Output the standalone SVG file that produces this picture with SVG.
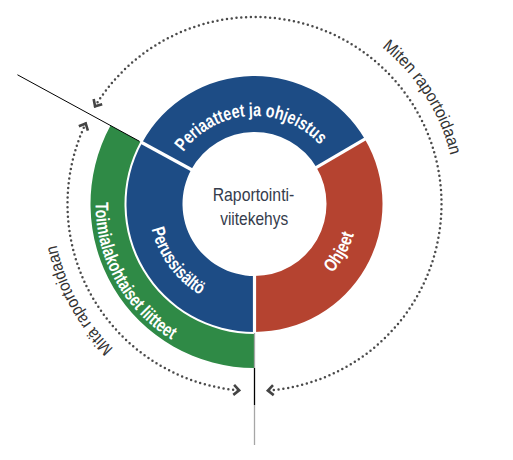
<svg xmlns="http://www.w3.org/2000/svg" width="513" height="460" viewBox="0 0 513 460">
  <style>
    .seg-blue { fill: #1d4c85; }
    .seg-red { fill: #b54330; }
    .seg-green { fill: #2f8a46; }
    .sep { stroke: #ffffff; stroke-width: 3.2; fill: none; }
    .lbl { font-family: "Liberation Sans Narrow", "Liberation Sans", Arial, sans-serif; font-weight: bold; fill: #ffffff; font-size: 18.5px; }
    .arcl { font-family: "Liberation Sans Narrow", "Liberation Sans", Arial, sans-serif; fill: #333333; font-size: 17px; }
    .ctr { font-family: "Liberation Sans Narrow", "Liberation Sans", Arial, sans-serif; fill: #353c4c; font-size: 18.5px; }
    .dot { fill: none; stroke: #4a4a4a; stroke-width: 2.5; stroke-linecap: round; stroke-dasharray: 0 4.8; marker-start: url(#chev); marker-end: url(#chev); }
  </style>
  <defs>
    <marker id="chev" markerUnits="userSpaceOnUse" markerWidth="14" markerHeight="14" refX="0" refY="0" orient="auto-start-reverse" overflow="visible">
      <path d="M-5.5,-5 L0,0 L-5.5,5" fill="none" stroke="#444444" stroke-width="2.6" stroke-linecap="butt"/>
    </marker>
    <path id="p-miten" d="M281.22,3.77 A202,202 0 0 1 447.04,265.08"/>
    <path id="p-mita" d="M214.92,402.08 A202,202 0 0 1 66.29,130.63"/>
    <path id="p-peri" d="M168.76,223.80 A88,88 0 1 1 341.84,214.72"/>
    <path id="p-perus" d="M151.47,179.08 A106,106 0 0 0 247.84,309.79"/>
    <path id="p-toimi" d="M106.06,147.02 A159,159 0 0 0 224.16,360.08"/>
    <path id="p-ohjeet" d="M273.81,306.19 A104,104 0 0 0 351.79,167.24"/>
  </defs>

  <rect x="0" y="0" width="513" height="460" fill="#ffffff"/>

  <g id="node-toimialakohtaiset">
    <path class="seg-green" d="M254.5,368 A164,164 0 0 1 110.51,125.51 L140.36,141.78 A130,130 0 0 0 254.5,334 Z"/>
    <text class="lbl" font-size="17.5"><textPath href="#p-toimi" startOffset="50%" text-anchor="middle" textLength="164" lengthAdjust="spacingAndGlyphs">Toimialakohtaiset liitteet</textPath></text>
  </g>

  <g id="node-periaatteet">
    <path class="seg-blue" d="M142.12,142.74 A128,128 0 0 1 364.79,139.03 L316.54,167.46 A72,72 0 0 0 191.29,169.54 Z"/>
    <text class="lbl"><textPath href="#p-peri" startOffset="50%" text-anchor="middle" textLength="156" lengthAdjust="spacingAndGlyphs">Periaatteet ja ohjeistus</textPath></text>
  </g>

  <g id="node-ohjeet">
    <path class="seg-red" d="M364.79,139.03 A128,128 0 0 1 254.5,332 L254.5,276 A72,72 0 0 0 316.54,167.46 Z"/>
    <text class="lbl"><textPath href="#p-ohjeet" startOffset="50%" text-anchor="middle" textLength="45" lengthAdjust="spacingAndGlyphs">Ohjeet</textPath></text>
  </g>

  <g id="node-perussisalto">
    <path class="seg-blue" d="M254.5,332 A128,128 0 0 1 142.12,142.74 L191.29,169.54 A72,72 0 0 0 254.5,276 Z"/>
    <text class="lbl"><textPath href="#p-perus" startOffset="50%" text-anchor="middle" textLength="84" lengthAdjust="spacingAndGlyphs">Perussisältö</textPath></text>
  </g>

  <g id="separators">
    <path class="sep" d="M193.04,170.50 L141.24,142.26"/>
    <path class="sep" d="M314.81,168.47 L365.65,138.53"/>
    <path class="sep" stroke-width="4" d="M254.5,270 L254.5,333"/>
  </g>

  <g id="node-center">
    <text class="ctr" x="253.5" y="200.5" text-anchor="middle" textLength="81.6" lengthAdjust="spacingAndGlyphs">Raportointi-</text>
    <text class="ctr" x="254.2" y="225" text-anchor="middle" textLength="68" lengthAdjust="spacingAndGlyphs">viitekehys</text>
  </g>

  <g id="connectors">
    <path d="M254.5,333 L254.5,445" stroke="#a6a6a6" stroke-width="1.3" fill="none"/>
    <path d="M254.5,368 L254.5,405" stroke="#000000" stroke-width="1.2" fill="none"/>
    <path d="M139.48,141.30 L17.45,74.78" stroke="#000000" stroke-width="1" fill="none"/>
    <path id="arc-miten" class="dot" d="M95.06,106.29 A187,187 0 1 1 267.87,390.52"/>
    <path id="arc-mita" class="dot" d="M85.72,123.49 A187,187 0 0 0 239.18,390.37"/>
  </g>

  <g id="arc-labels">
    <text class="arcl"><textPath href="#p-miten" startOffset="50%" text-anchor="middle" textLength="130" lengthAdjust="spacingAndGlyphs">Miten raportoidaan</textPath></text>
    <text class="arcl"><textPath href="#p-mita" startOffset="50%" text-anchor="middle" textLength="120" lengthAdjust="spacingAndGlyphs">Mitä raportoidaan</textPath></text>
  </g>
</svg>
